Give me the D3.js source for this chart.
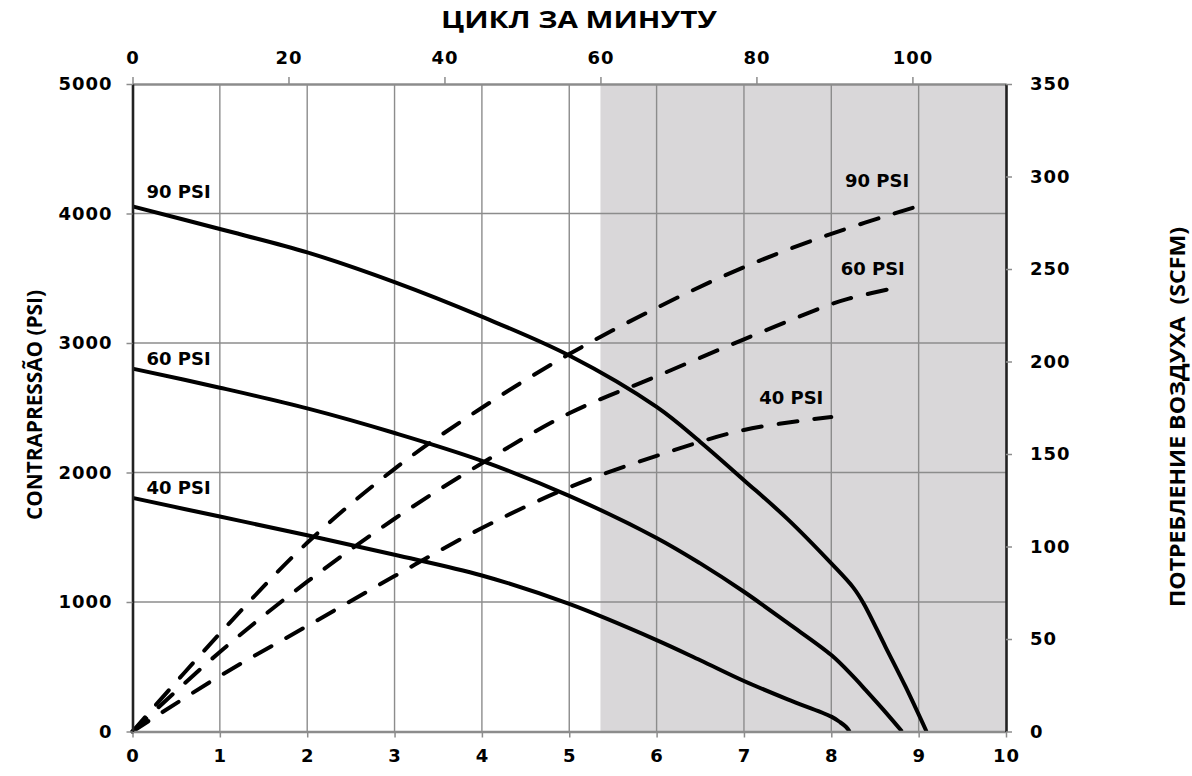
<!DOCTYPE html>
<html>
<head>
<meta charset="utf-8">
<script src="https://cdn.jsdelivr.net/npm/d3@7"></script>
<style>
  html, body { margin: 0; padding: 0; background: #fff; }
  svg { display: block; }
  .tick text { font-family: "DejaVu Sans", Verdana, sans-serif; font-weight: bold; font-size: 18px; fill: #000; letter-spacing: 1px; }
  .title { font-family: "Liberation Sans Narrow", "Open Sans", sans-serif; font-weight: bold; fill: #000; white-space: pre; }
  .lbl { font-family: "DejaVu Sans", Verdana, sans-serif; font-weight: bold; font-size: 18px; fill: #000; }
</style>
</head>
<body>
<script>
// ---------- data ----------
const xTicks = [0,1,2,3,4,5,6,7,8,9,10];
const topTicks = [0,20,40,60,80,100];
const leftTicks = [0,1000,2000,3000,4000,5000];
const rightTicks = [0,50,100,150,200,250,300,350];
const shadeStartCpm = 60;

// back pressure (solid) curves: flow (x) vs PSI
const flow90 = [0,1,2,3,4,5,6,6.5,7,7.5,8,8.25,8.37,8.62,8.85,9.09];
const bp90   = [4055,3880,3700,3470,3203,2903,2506,2236,1941,1640,1298,1113,989,654,346,0];
const flow60 = [0,1,2,3,4,5,6,6.5,7,7.5,8,8.25,8.4,8.6,8.81];
const bp60   = [2802,2655,2495,2305,2090,1820,1495,1298,1079,838,590,425,315,165,0];
const flow40 = [0,1,2,3,4,5,6,6.5,7,7.5,8,8.1,8.17,8.21];
const bp40   = [1804,1660,1515,1365,1205,985,706,550,390,248,115,72,35,0];

// air consumption (dashed) curves: flow (x) vs SCFM
const airFlow90 = [0,1,2,3,4,5,6,7,8,8.96];
const air90     = [0,53,102,142,175,204,229,251,269,283.5];
const airFlow60 = [0,1,2,3,4,5,6,7,8,8.2,8.75];
const air60     = [0,43,81,115,145,172,192,212,231,234,240];
const airFlow40 = [0,1,2,3,4,5,6,7,8];
const air40     = [0,30,57,84,110,132,149,163,170];

const seriesNames = ["90 PSI","60 PSI","40 PSI"];

// ---------- layout ----------
const W = 1192, H = 776;
const L = 132.5, R = 1006, T = 84, B = 731.5;

const svg = d3.select("body").append("svg").attr("width", W).attr("height", H);

const x = d3.scaleLinear().domain([0,10]).range([L,R]);
const xTop = d3.scaleLinear().domain([0,112]).range([L,R]);
const yL = d3.scaleLinear().domain([0,5000]).range([B,T]);
const yR = d3.scaleLinear().domain([0,350]).range([B,T]);

// shaded region
svg.append("rect")
  .attr("x", xTop(shadeStartCpm)).attr("y", T)
  .attr("width", R - xTop(shadeStartCpm)).attr("height", B - T)
  .attr("fill", "#d9d7d9");

// grid
const grid = svg.append("g").attr("stroke", "#8c8c8c").attr("stroke-width", 1.4);
grid.selectAll("line.v").data(xTicks.filter(d => d > 0 && d < 10)).join("line")
  .attr("x1", d => x(d)).attr("x2", d => x(d)).attr("y1", T).attr("y2", B);
grid.selectAll("line.h").data(leftTicks.filter(d => d > 0 && d < 5000)).join("line")
  .attr("x1", L).attr("x2", R).attr("y1", d => yL(d)).attr("y2", d => yL(d));

// curves
const curve = d3.curveCatmullRom.alpha(0.5);
const solidLine = d3.line().x(d => x(d[0])).y(d => yL(d[1])).curve(curve);
const dashLine = d3.line().x(d => x(d[0])).y(d => yR(d[1])).curve(curve);

const solids = [d3.zip(flow90,bp90), d3.zip(flow60,bp60), d3.zip(flow40,bp40)];
const dashes = [d3.zip(airFlow90,air90), d3.zip(airFlow60,air60), d3.zip(airFlow40,air40)];

svg.append("g").selectAll("path").data(dashes).join("path")
  .attr("d", dashLine).attr("fill", "none").attr("stroke", "#000")
  .attr("stroke-width", 4).attr("stroke-dasharray", "19,17").attr("stroke-linecap", "round");

svg.append("g").selectAll("path").data(solids).join("path")
  .attr("d", solidLine).attr("fill", "none").attr("stroke", "#000")
  .attr("stroke-width", 4).attr("stroke-linejoin", "round");

// axes
function styleAxis(g, domainColor) {
  g.select(".domain").attr("stroke", domainColor).attr("stroke-width", 2.6);
  g.selectAll(".tick line").attr("stroke", "#8c8c8c").attr("stroke-width", 1.5);
}
svg.append("g").attr("transform", `translate(0,${B})`)
  .call(d3.axisBottom(x).tickValues(xTicks).tickSize(6).tickSizeOuter(0).tickPadding(12))
  .call(g => styleAxis(g, "#8c8c8c"))
  .call(g => g.selectAll(".tick text").attr("dy", "0.71em"));
svg.append("g").attr("transform", `translate(0,${T})`)
  .call(d3.axisTop(xTop).tickValues(topTicks).tickSize(7).tickSizeOuter(0).tickPadding(13))
  .call(g => styleAxis(g, "#8c8c8c"));
svg.append("g").attr("transform", `translate(${L},0)`)
  .call(d3.axisLeft(yL).tickValues(leftTicks).tickFormat(d3.format("d")).tickSize(6).tickSizeOuter(0).tickPadding(14))
  .call(g => styleAxis(g, "#222"));
svg.append("g").attr("transform", `translate(${R},0)`)
  .call(d3.axisRight(yR).tickValues(rightTicks).tickSize(6).tickSizeOuter(0).tickPadding(18))
  .call(g => styleAxis(g, "#222"))
  .call(g => g.selectAll(".tick text").attr("text-anchor", "start"));

// series labels
const leftOffsets = [-8, -4, -4];
svg.append("g").selectAll("text").data(solids).join("text")
  .attr("class", "lbl")
  .attr("x", d => x(d[0][0]) + 14)
  .attr("y", (d, i) => yL(d[0][1]) + leftOffsets[i])
  .text((d, i) => seriesNames[i]);

const rightOff = [[-6,-20],[8,-13],[-8,-13]];
svg.append("g").selectAll("text").data(dashes).join("text")
  .attr("class", "lbl").attr("text-anchor", "end")
  .attr("x", (d, i) => x(d[d.length-1][0]) + rightOff[i][0])
  .attr("y", (d, i) => yR(d[d.length-1][1]) + rightOff[i][1])
  .text((d, i) => seriesNames[i]);

// titles
svg.append("text").attr("class", "title")
  .attr("x", 579).attr("y", 28).attr("text-anchor", "middle")
  .attr("font-size", 24).attr("textLength", 276).attr("lengthAdjust", "spacingAndGlyphs")
  .text("ЦИКЛ ЗА МИНУТУ");
svg.append("text").attr("class", "title")
  .attr("transform", "translate(42,405) rotate(-90)").attr("text-anchor", "middle")
  .attr("font-size", 22).attr("textLength", 230).attr("lengthAdjust", "spacingAndGlyphs")
  .text("CONTRAPRESSÃO (PSI)");
svg.append("text").attr("class", "title")
  .attr("transform", "translate(1185,417) rotate(-90)").attr("text-anchor", "middle")
  .attr("font-size", 21).attr("textLength", 380).attr("lengthAdjust", "spacingAndGlyphs")
  .text("ПОТРЕБЛЕНИЕ ВОЗДУХА  (SCFM)");
</script>
</body>
</html>
